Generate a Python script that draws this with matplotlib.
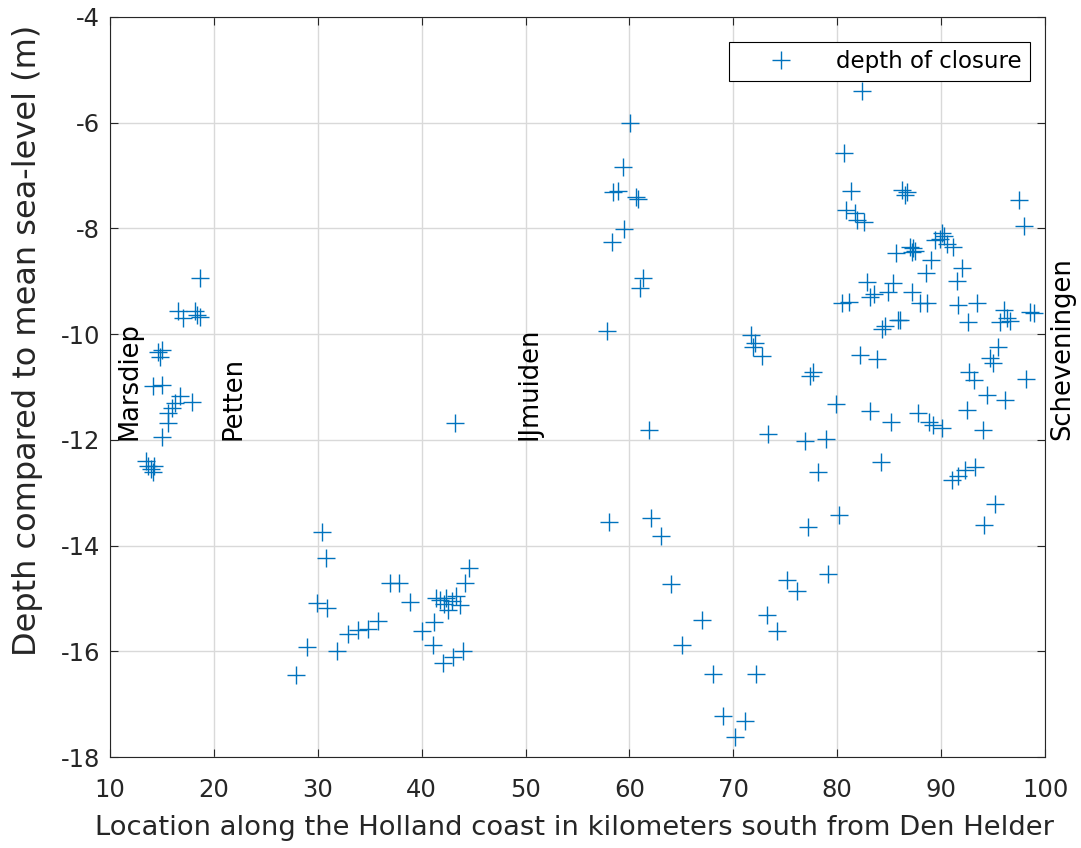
import matplotlib
matplotlib.use("Agg")
import matplotlib.pyplot as plt

plt.rcParams['font.family'] = ['DejaVu Sans']
plt.rcParams['axes.unicode_minus'] = False

# depth of closure points (km south of Den Helder, depth m)
marsdiep_x = [13.5, 13.7, 13.9, 14.1, 14.2, 14.17, 14.97, 14.65, 14.97, 14.81,
              14.97, 15.61, 15.61, 15.94, 16.26, 16.74, 17.86,
              16.58, 17.06, 18.18, 18.34, 18.66, 18.66]
marsdiep_y = [-12.40, -12.50, -12.55, -12.60, -12.50, -10.99, -10.96, -10.33, -10.30, -10.43,
              -11.94, -11.69, -11.50, -11.40, -11.31, -11.18, -11.28,
              -9.57, -9.70, -9.57, -9.64, -9.67, -8.94]

petten_x = [27.87, 28.93, 29.89, 30.86, 30.38, 30.76, 31.89, 32.94, 33.9, 34.87,
            35.83, 36.95, 37.85, 38.88, 40.07, 41.12, 41.21, 41.35, 41.76, 42.1,
            42.3, 42.56, 42.9, 43.3, 43.7, 42.08, 43.05, 44.0, 44.17, 44.56, 43.21]
petten_y = [-16.44, -15.91, -15.09, -15.19, -13.75, -14.24, -16.0, -15.67, -15.60, -15.58,
            -15.42, -14.70, -14.70, -15.06, -15.61, -15.88, -15.44, -15.0, -15.03, -15.1,
            -15.0, -15.22, -15.05, -14.95, -15.12, -16.23, -16.11, -16.0, -14.70, -14.43, -11.69]

south_x = [60.05, 59.41, 58.45, 58.93, 60.63, 60.85, 59.5, 58.35, 61.34, 61.02,
           57.87, 61.88, 58.03, 62.04, 63.0, 64.0, 67.01, 65.02, 68.0, 72.18,
           69.03, 71.12, 70.16, 75.14, 76.16, 73.21, 74.17, 77.2, 79.14, 80.2,
           78.17, 84.18, 73.36, 76.9, 78.89, 79.85, 83.16, 85.17, 77.7, 77.38,
           71.67, 72.08, 71.86, 72.72, 82.19, 83.8,
           82.35, 80.65, 81.32, 80.84, 81.71, 81.87, 82.6,
           82.83, 85.63, 85.4, 84.85, 83.2, 83.5, 80.43, 81.13, 84.28, 84.6, 85.85,
           86.2, 86.52, 86.7, 97.5, 97.98,
           90.05, 89.9, 90.3, 90.6, 89.4, 91.17,
           87.0, 87.3, 87.5, 87.2, 89.0, 88.54, 91.97, 91.49,
           87.16, 87.97, 88.6, 91.65, 93.48, 92.61, 95.67, 96.1, 96.3, 96.6, 98.6, 98.9, 86.04,
           95.5, 94.7, 95.0, 92.7, 93.2, 98.17, 94.4, 96.15,
           87.81, 88.8, 89.2, 90.05, 92.45, 94.05,
           91.0, 91.6, 92.3, 93.26, 95.2, 94.15]
south_y = [-6.01, -6.83, -7.32, -7.29, -7.40, -7.45, -8.01, -8.25, -8.93, -9.12,
           -9.94, -11.81, -13.55, -13.48, -13.81, -14.73, -15.41, -15.88, -16.43, -16.43,
           -17.22, -17.31, -17.62, -14.66, -14.86, -15.31, -15.61, -13.64, -14.54, -13.42,
           -12.60, -12.41, -11.89, -12.02, -11.98, -11.32, -11.45, -11.66, -10.71, -10.80,
           -10.02, -10.17, -10.24, -10.41, -10.39, -10.48,
           -5.40, -6.57, -7.29, -7.65, -7.71, -7.84, -7.87,
           -9.02, -8.47, -9.04, -9.21, -9.30, -9.25, -9.42, -9.39, -9.91, -9.85, -9.73,
           -7.27, -7.37, -7.32, -7.46, -7.95,
           -8.09, -8.20, -8.15, -8.30, -8.22, -8.35,
           -8.35, -8.38, -8.42, -8.45, -8.60, -8.84, -8.75, -9.00,
           -9.20, -9.42, -9.42, -9.45, -9.42, -9.78, -9.78, -9.55, -9.70, -9.75, -9.59, -9.60, -9.74,
           -10.24, -10.46, -10.55, -10.71, -10.87, -10.84, -11.15, -11.25,
           -11.50, -11.66, -11.72, -11.78, -11.43, -11.81,
           -12.76, -12.68, -12.57, -12.51, -13.22, -13.62]

x_vals = marsdiep_x + petten_x + south_x
y_vals = marsdiep_y + petten_y + south_y

place_names = ['Marsdiep', 'Petten', 'IJmuiden', 'Scheveningen']
place_x = [11.9, 21.9, 50.4, 101.7]
place_y = [-12, -12, -12, -12]

xticks = list(range(10, 101, 10))
yticks = list(range(-18, -3, 2))

fig = plt.figure(figsize=(10.81, 8.48), dpi=100)
ax = fig.add_axes([0.1018, 0.1073, 0.8649, 0.8727])

dark = (0.15, 0.15, 0.15)
ax.plot(x_vals, y_vals, linestyle='none', marker='+', markersize=13,
        markeredgewidth=1.0, color='#0072BD', label='depth of closure')

for name, tx, ty in zip(place_names, place_x, place_y):
    ax.text(tx, ty, name, rotation=90, ha='center', va='bottom', fontsize=18.5,
            color='black', clip_on=False)

ax.set_xlim(10, 100)
ax.set_ylim(-18, -4)
ax.set_xticks(xticks)
ax.set_yticks(yticks)
ax.grid(True, color=(0.85, 0.85, 0.85), linewidth=1.0)
ax.set_axisbelow(True)
ax.tick_params(direction='in', top=True, right=True, length=6, width=0.8,
               labelsize=17.5, colors=dark)
ax.tick_params(axis='x', pad=15)
ax.tick_params(axis='y', pad=7)
for sp in ax.spines.values():
    sp.set_color(dark)
    sp.set_linewidth(0.8)

ax.set_xlabel('Location along the Holland coast in kilometers south from Den Helder',
              fontsize=19.7, color=dark)
ax.xaxis.set_label_coords(0.497, -0.079)
ax.set_ylabel('Depth compared to mean sea-level (m)', fontsize=23, color=dark)
ax.yaxis.set_label_coords(-0.0717, 0.5635)

leg = ax.legend(loc='upper right', fontsize=16.5, fancybox=False, framealpha=1,
                edgecolor='black', borderpad=0.35, handlelength=3.84, handletextpad=0.48,
                borderaxespad=0, bbox_to_anchor=(0.984, 0.966))
leg.get_frame().set_linewidth(0.8)

fig.savefig('out.png', dpi=100)
